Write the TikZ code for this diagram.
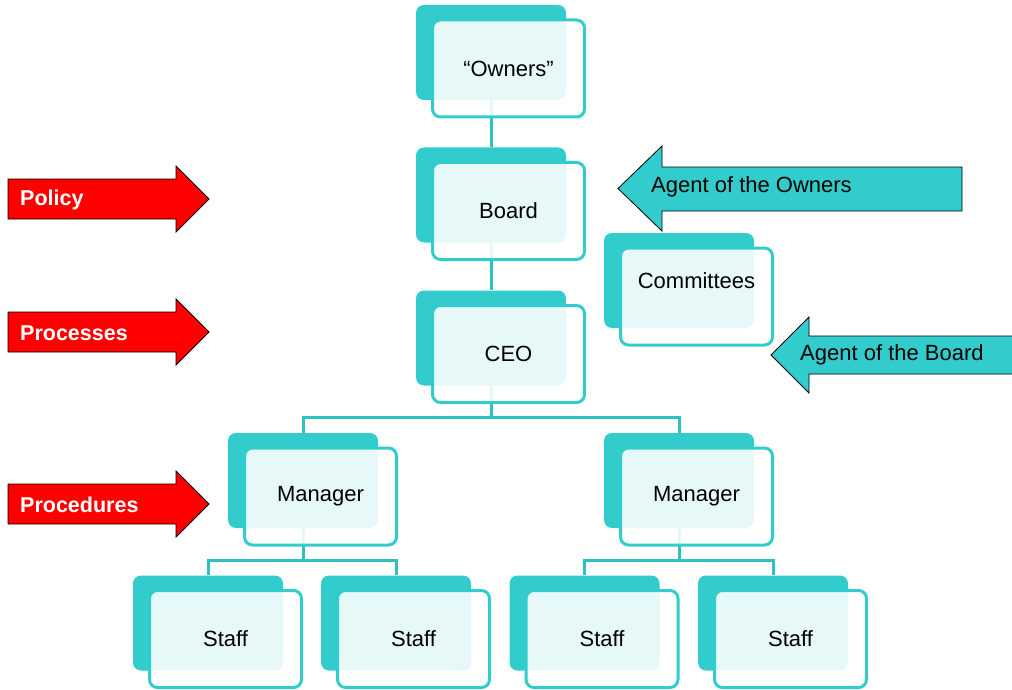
\documentclass[tikz,border=0pt]{standalone}
\usepackage{fontspec}
\setmainfont{Liberation Sans}
\usetikzlibrary{positioning}

\definecolor{boxteal}{RGB}{51,204,204}
\definecolor{linkteal}{RGB}{47,192,192}
\definecolor{arrowred}{RGB}{255,0,0}

\tikzset{
  backbox/.style={fill=boxteal, rounded corners=8pt, minimum width=150pt, minimum height=95pt, inner sep=0pt},
  frontbox/.style={draw=boxteal, line width=3pt, fill=white, fill opacity=0.88, text opacity=1,
                   rounded corners=8pt, minimum width=152pt, minimum height=97pt, inner sep=0pt},
  link/.style={draw=linkteal, line width=3pt},
  redarrow/.style={fill=arrowred, draw=black, line width=0.8pt},
  tealarrow/.style={fill=boxteal, draw=black, line width=0.8pt},
  boxtext/.style={font=\fontsize{22}{26}\selectfont},
  arrowtext/.style={font=\fontsize{21.5}{26}\selectfont\bfseries, text=white, anchor=west, inner sep=0pt}
}

\begin{document}
\begin{tikzpicture}[x=1pt, y=-1pt]
  \useasboundingbox (0,0) rectangle (1012,690);

  % back cards
  \foreach \nm/\x/\y in {owners/491/52.5, board/491/195, ceo/491/338, cmte/679/280.5,
                         mgrl/303/480.5, mgrr/679/480.5,
                         stfa/208/623, stfb/396/623, stfc/584.5/623, stfd/773/623}
    \node[backbox] (\nm-b) at (\x,\y) {};

  % reporting lines
  \draw[link] (owners-b) -- (board-b);
  \draw[link] (board-b) -- (ceo-b);
  \draw[link] (ceo-b.south) -- ++(0,32) -| (mgrl-b.north);
  \draw[link] (ceo-b.south) -- ++(0,32) -| (mgrr-b.north);
  \draw[link] (mgrl-b.south) -- ++(0,32) -| (stfa-b.north);
  \draw[link] (mgrl-b.south) -- ++(0,32) -| (stfb-b.north);
  \draw[link] (mgrr-b.south) -- ++(0,32) -| (stfc-b.north);
  \draw[link] (mgrr-b.south) -- ++(0,32) -| (stfd-b.north);

  % front cards with the labels
  \foreach \nm/\txt in {owners/{“Owners”}, board/Board, ceo/CEO, cmte/{},
                        mgrl/Manager, mgrr/Manager,
                        stfa/Staff, stfb/Staff, stfc/Staff, stfd/Staff}
    \node[frontbox, boxtext] (\nm) at ([shift={(17.5,16)}]\nm-b.center) {\txt};
  \node[boxtext] (cmte-t) at ([yshift=16pt]cmte.center) {Committees};

  % red arrows on the left
  \foreach \c/\txt in {199/Policy, 332/Processes, 504/Procedures} {
    \draw[redarrow] (8,\c-20) -- (176,\c-20) -- (176,\c-33) -- (209,\c)
      -- (176,\c+33) -- (176,\c+20) -- (8,\c+20) -- cycle;
    \node[arrowtext] (lbl-\txt) at (20,\c+1) {\txt};
  }

  % teal arrows on the right
  \draw[tealarrow] (962,167) -- (662,167) -- (662,146) -- (618,188.5)
    -- (662,231) -- (662,211) -- (962,211) -- cycle;
  \node[boxtext, anchor=west, inner sep=0pt] (agent-own) at (651,187) {Agent of the Owners};

  \draw[tealarrow] (1020,336) -- (809,336) -- (809,317) -- (771,355)
    -- (809,393) -- (809,374) -- (1020,374) -- cycle;
  \node[boxtext, anchor=west, inner sep=0pt] (agent-brd) at (800,355) {Agent of the Board};
\end{tikzpicture}
\end{document}
